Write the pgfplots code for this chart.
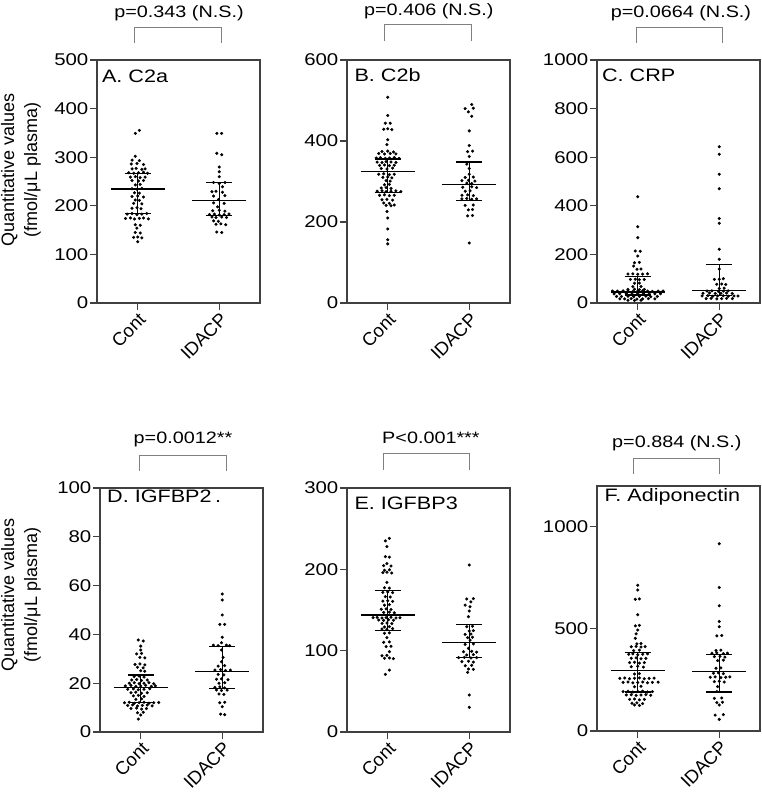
\documentclass[border=0pt]{standalone}
\usepackage{fontspec}
\setmainfont{Liberation Sans}
\usepackage{graphicx}
\usepackage{pgfplots}
\pgfplotsset{compat=1.18}
\newcommand\tickfont{\fontsize{17}{17}\selectfont}
\newcommand\xtickfont{\fontsize{18.5}{18.5}\selectfont}
\newcommand\tfont{\fontsize{18}{18}\selectfont}
\newcommand\pfont{\fontsize{16.5}{17}\selectfont}
\newcommand\lfont{\fontsize{18}{23}\selectfont}
\newcommand\sx[1]{\scalebox{1.2}[1]{#1}}
\pgfplotsset{
  panel/.style={
    scale only axis, width=163pt, height=243pt,
    xmin=0.5, xmax=2.5, ymin=0,
    xtick={1,2}, xticklabels={Cont,IDACP},
    tick align=outside, xtick pos=bottom, ytick pos=left,
    major tick length=7pt,
    axis line style={line width=1.1pt, black!75},
    every tick/.style={line width=1.1pt, black!75},
    /pgf/number format/assume math mode=true,
    /pgf/number format/1000 sep={},
    scaled y ticks=false,
    yticklabel={\sx{\pgfmathprintnumber{\tick}}},
    yticklabel style={font=\tickfont, inner sep=1.5pt},
    xticklabel style={font=\xtickfont, rotate=45, anchor=north east, inner sep=1pt},
    clip=false,
  },
  dots/.style={only marks, mark=*, mark size=1.35pt, black},
  summ/.style={black, line width=1.25pt, no marks},
}
\tikzset{
  brk/.style={black!50, line width=0.8pt},
  ptext/.style={font=\pfont, text=black},
  ttext/.style={font=\tfont, anchor=base west, inner sep=0pt},
}
\begin{document}
\begin{tikzpicture}
\path[use as bounding box] (0,0) rectangle (761pt,-798pt);

% ---------------- A. C2a
\begin{axis}[panel, at={(97pt,-303pt)}, anchor=south west, ymax=500, ytick={0,100,200,300,400,500}]
\addplot[dots] coordinates {
(1.02,355)(0.97,349)(0.97,302)(0.93,294)(1.02,293)(0.92,286)(0.99,287)(1.07,285)
(0.93,276)(0.98,277)(1.05,275)(1.09,276)
(0.89,268)(0.95,267)(1.01,268)(1.07,269)(1.12,267)
(0.91,259)(0.97,260)(1.03,258)(1.09,259)
(0.93,252)(1.01,251)(1.07,252)(0.97,243)(1.03,244)
(0.93,235)(0.99,234)(1.05,236)(0.96,227)(1.02,226)
(0.93,219)(1.0,220)(1.07,218)(0.97,212)(1.02,211)(0.95,205)(1.05,204)
(0.93,195)(0.99,196)(1.04,194)
(0.87,183)(0.93,184)(0.99,182)(1.05,183)(1.11,184)
(0.85,174)(0.91,175)(0.96,173)(1.02,174)(1.07,175)(1.13,173)
(0.97,161)(1.03,160)(0.99,154)(0.97,145)(1.03,144)
(0.95,135)(1.0,136)(1.05,134)(1.0,126)
};
\addplot[dots] coordinates {
(1.97,349)(2.03,349)(1.97,308)(2.03,305)(2.0,280)(2.0,270)(2.0,260)
(1.93,248)(2.0,246)(2.07,248)(2.04,239)
(1.91,229)(1.96,230)(2.04,228)(1.93,220)(2.07,221)(1.99,213)
(1.93,206)(2.06,205)(1.98,198)
(1.92,190)(2.0,191)(2.07,189)
(1.88,182)(1.94,183)(2.0,181)(2.06,182)(2.12,183)
(1.91,177)(1.96,176)(2.03,177)(2.09,176)
(1.93,169)(1.99,168)(1.96,162)(2.02,163)(2.08,161)
(1.97,146)(2.03,145)
};
\addplot[summ] coordinates {(0.67,234.6) (1.33,234.6)};
\addplot[summ] coordinates {(0.84,267) (1.16,267)};
\addplot[summ] coordinates {(0.84,184.5) (1.16,184.5)};
\addplot[summ] coordinates {(1,184.5) (1,267)};
\addplot[summ] coordinates {(1.67,210.5) (2.33,210.5)};
\addplot[summ] coordinates {(1.84,248) (2.16,248)};
\addplot[summ] coordinates {(1.84,180.4) (2.16,180.4)};
\addplot[summ] coordinates {(2,180.4) (2,248)};
\node[ttext] at (axis description cs:0.03,0.909) {\sx{A. C2a}};
\draw[brk] (axis description cs:0.227,1.070) -- (axis description cs:0.227,1.136) -- (axis description cs:0.761,1.136) -- (axis description cs:0.761,1.070);
\node[ptext] at (axis description cs:0.503,1.193) {\sx{p=0.343 (N.S.)}};
\node[rotate=90, align=center, font=\lfont] at (axis description cs:-0.466,0.547) {Quantitative values\\(fmol/μL plasma)};
\end{axis}

% ---------------- B. C2b
\begin{axis}[panel, at={(347pt,-303pt)}, anchor=south west, ymax=600, ytick={0,200,400,600}]
\addplot[dots] coordinates {
(1.0,508)(1.0,463)(0.97,444)(1.03,444)(0.95,429)(1.0,430)(1.05,428)
(1.0,403)(0.99,391)(0.93,374)(1.0,375)(1.07,373)
(0.89,369)(0.96,368)(1.03,369)(1.10,368)
(0.86,358)(0.91,359)(0.97,357)(1.02,358)(1.08,359)(1.14,357)
(0.87,348)(0.93,347)(0.98,349)(1.04,348)(1.10,347)
(0.90,340)(0.96,341)(1.02,339)(1.08,340)
(0.92,332)(0.99,331)(1.06,333)
(0.89,318)(0.95,319)(1.02,317)(1.08,318)
(0.94,310)(1.0,311)(1.05,309)(0.98,302)(1.03,301)(0.96,292)(1.02,293)
(0.92,284)(0.98,285)(1.04,283)
(0.87,276)(0.93,277)(0.98,275)(1.04,276)(1.10,277)(1.16,275)
(0.90,266)(0.96,267)(1.02,265)(1.08,266)
(0.93,255)(0.99,256)(1.06,254)(0.95,247)(1.02,246)
(0.98,241)(1.04,240)(1.08,242)
(0.99,226)(1.0,210)(1.0,183)(1.0,156)(1.0,146)
};
\addplot[dots] coordinates {
(2.03,490)(1.95,480)(2.05,481)(1.99,472)(2.03,461)(2.0,425)(2.0,389)
(1.98,374)(2.04,375)(2.0,362)(1.97,343)(2.0,332)(2.0,318)
(1.95,310)(2.05,311)(1.91,302)(1.99,303)(2.07,301)(1.97,296)(2.03,295)
(1.92,286)(2.03,287)(2.09,285)(1.95,276)(2.01,277)
(1.91,266)(1.98,267)(2.05,265)
(1.91,257)(1.97,258)(2.03,256)(2.09,257)
(1.95,241)(2.05,242)(1.99,230)(2.04,231)(1.98,215)(2.04,216)(2.0,148)
};
\addplot[summ] coordinates {(0.67,325) (1.33,325)};
\addplot[summ] coordinates {(0.84,355.5) (1.16,355.5)};
\addplot[summ] coordinates {(0.84,272) (1.16,272)};
\addplot[summ] coordinates {(1,272) (1,355.5)};
\addplot[summ] coordinates {(1.67,292) (2.33,292)};
\addplot[summ] coordinates {(1.84,348) (2.16,348)};
\addplot[summ] coordinates {(1.84,253.5) (2.16,253.5)};
\addplot[summ] coordinates {(2,253.5) (2,348)};
\node[ttext] at (axis description cs:0.045,0.911) {\sx{B. C2b}};
\draw[brk] (axis description cs:0.227,1.078) -- (axis description cs:0.227,1.148) -- (axis description cs:0.761,1.148) -- (axis description cs:0.761,1.078);
\node[ptext] at (axis description cs:0.502,1.202) {\sx{p=0.406 (N.S.)}};
\end{axis}

% ---------------- C. CRP
\begin{axis}[panel, at={(597pt,-303pt)}, anchor=south west, ymax=1000, ytick={0,200,400,600,800,1000}]
\addplot[dots] coordinates {
(1.0,437)(1.0,314)(1.0,269)(0.97,214)(1.03,213)(1.0,193)(0.96,166)(1.02,167)
(0.95,152)(0.99,139)(1.04,140)
(0.88,119)(0.94,120)(1.0,118)(1.06,119)(1.12,120)
(0.91,97)(0.97,98)(1.02,96)(1.08,97)(0.96,81)(1.02,82)(0.94,67)(1.04,68)
(0.88,56)(0.96,57)(1.02,55)(1.08,56)
(0.69,49)(0.75,49)(0.82,50)(0.88,49)(0.94,48)(1.0,49)(1.06,50)(1.12,49)(1.18,48)(1.25,49)(1.31,49)
(0.71,38)(0.78,38)(0.86,39)(0.93,37)(1.0,38)(1.07,39)(1.14,37)(1.21,38)(1.28,38)
(0.74,27)(0.80,27)(0.88,28)(0.95,26)(1.02,27)(1.10,28)(1.16,26)(1.24,27)
(0.78,17)(0.84,17)(0.92,18)(0.99,16)(1.06,17)(1.13,18)(1.21,17)
(0.88,11)(0.96,10)(1.04,11)
};
\addplot[dots] coordinates {
(2.0,643)(2.0,612)(2.0,530)(2.0,470)(2.0,348)(2.0,328)(2.0,221)(2.0,180)(2.0,140)
(1.94,97)(2.0,98)(2.05,100)(1.97,77)(2.03,78)(2.08,76)(2.0,60)(2.06,61)
(1.85,49)(1.91,50)(1.99,48)(2.05,49)(2.11,50)
(1.80,40)(1.88,41)(1.95,39)(2.02,40)(2.09,41)(2.16,39)
(1.79,29)(1.86,30)(1.92,28)(1.98,29)(2.05,30)(2.11,28)(2.18,29)(2.23,29)
(1.84,18)(1.90,19)(1.97,17)(2.03,18)(2.09,19)(2.16,18)
};
\addplot[summ] coordinates {(0.67,45) (1.33,45)};
\addplot[summ] coordinates {(0.84,110) (1.16,110)};
\addplot[summ] coordinates {(0.84,33) (1.16,33)};
\addplot[summ] coordinates {(1,33) (1,110)};
\addplot[summ] coordinates {(1.67,53) (2.33,53)};
\addplot[summ] coordinates {(1.84,157) (2.16,157)};
\addplot[summ] coordinates {(1.84,30) (2.16,30)};
\addplot[summ] coordinates {(2,30) (2,157)};
\node[ttext] at (axis description cs:0.03,0.911) {\sx{C. CRP}};
\draw[brk] (axis description cs:0.239,1.070) -- (axis description cs:0.239,1.136) -- (axis description cs:0.767,1.136) -- (axis description cs:0.767,1.070);
\node[ptext] at (axis description cs:0.515,1.193) {\sx{p=0.0664 (N.S.)}};
\end{axis}

% ---------------- D. IGFBP2
\begin{axis}[panel, at={(100pt,-732pt)}, anchor=south west, height=244pt, ymax=100, ytick={0,20,40,60,80,100}]
\addplot[dots] coordinates {
(0.97,37.7)(1.03,37.3)(1.0,35.2)(1.0,33.6)(0.95,32)(1.01,32.2)(0.99,30.6)(1.05,30.4)
(0.93,27.7)(0.99,27.9)(1.05,27.5)(0.96,26.5)(1.03,26.3)(1.0,25.1)(1.05,24.9)
(0.92,22.7)(0.98,22.9)(1.04,22.5)
(0.89,21.3)(0.95,21.5)(1.01,21.1)(1.08,21.3)
(0.86,20)(0.92,20.2)(0.98,19.8)(1.04,20)(1.10,20.2)(1.16,19.8)
(0.81,18.9)(0.88,19.1)(0.94,18.7)(1.0,18.9)(1.06,19.1)(1.13,18.7)(1.18,18.9)
(0.84,17.5)(0.91,17.7)(0.97,17.3)(1.04,17.5)(1.11,17.7)
(0.88,16.1)(0.94,16.3)(1.01,15.9)(1.08,16.1)
(0.91,14.8)(0.97,15.0)(1.04,14.6)(0.94,13.4)(1.01,13.6)
(0.80,12)(0.86,12.2)(0.92,11.8)(0.98,12)(1.04,12.2)(1.10,11.8)(1.16,12)(1.22,12.1)
(0.84,10.9)(0.90,11.1)(0.96,10.7)(1.02,10.9)(1.08,11.1)(1.14,10.7)
(0.88,9.6)(0.95,9.8)(1.01,9.4)(1.07,9.6)
(0.96,7.9)(1.03,8.1)(1.0,7.0)(0.97,5.3)
};
\addplot[dots] coordinates {
(2.0,56.6)(2.0,54.1)(2.0,48)(1.97,44.1)(2.03,44.1)(2.0,38.8)(1.99,36.6)
(1.89,35.6)(1.95,35.4)(2.05,35.6)(2.09,35.4)
(1.99,33.6)(2.01,30.6)(1.99,28.8)(1.95,27)(2.03,27.2)
(1.91,25.4)(1.98,25.6)(2.04,25.2)(2.10,25.4)
(1.95,23.6)(2.02,23.4)(1.93,21.6)(1.99,21.8)(2.07,21.4)
(1.96,20)(2.03,20.2)(1.91,18.3)(1.97,18.5)(2.03,18.1)
(1.93,17.2)(1.99,17.0)(2.06,17.2)(1.96,15.6)(2.02,15.4)
(1.97,12)(2.03,12.2)(2.0,10.4)(1.98,7.3)(2.03,7.1)
};
\addplot[summ] coordinates {(0.67,18.2) (1.33,18.2)};
\addplot[summ] coordinates {(0.84,23.4) (1.16,23.4)};
\addplot[summ] coordinates {(0.84,12.0) (1.16,12.0)};
\addplot[summ] coordinates {(1,12.0) (1,23.4)};
\addplot[summ] coordinates {(1.67,24.9) (2.33,24.9)};
\addplot[summ] coordinates {(1.84,35.1) (2.16,35.1)};
\addplot[summ] coordinates {(1.84,17.8) (2.16,17.8)};
\addplot[summ] coordinates {(2,17.8) (2,35.1)};
\node[ttext] at (axis description cs:0.043,0.940) {\sx{D. IGFBP2\hspace{3pt}.}};
\draw[brk] (axis description cs:0.239,1.070) -- (axis description cs:0.239,1.135) -- (axis description cs:0.773,1.135) -- (axis description cs:0.773,1.070);
\node[ptext] at (axis description cs:0.509,1.197) {\sx{p=0.0012**}};
\node[rotate=90, align=center, font=\lfont] at (axis description cs:-0.485,0.561) {Quantitative values\\(fmol/μL plasma)};
\end{axis}

% ---------------- E. IGFBP3
\begin{axis}[panel, at={(347pt,-732pt)}, anchor=south west, height=244pt, ymax=300, ytick={0,100,200,300}]
\addplot[dots] coordinates {
(1.02,238)(0.97,235)(0.99,228)(0.97,215.6)(1.02,215)(0.99,207)(0.95,204.5)(1.04,204)
(0.96,199)(1.02,199.5)(0.94,196)(0.99,196.5)(1.05,195.5)(0.99,184)(0.96,177.4)(1.02,177)
(0.94,171.8)(1.0,172.3)(1.06,171.3)(0.97,166.4)(1.03,166)
(0.94,161)(1.0,161.5)(1.06,160.5)(0.96,156)(1.02,156.5)
(0.92,151)(0.98,151.5)(1.04,150.5)(0.95,147)(1.02,147.5)(1.08,146.5)
(0.82,140.6)(0.87,141)(0.93,140.2)(0.98,140.6)(1.04,141)(1.10,140.2)(1.15,140.6)
(0.89,137.7)(0.95,137.3)(1.01,138)(1.07,137.5)
(0.93,133.6)(0.99,134)(1.05,133.2)(0.96,129)(1.02,129.5)
(0.93,126.6)(0.99,126.2)(1.06,127)(0.96,121.3)(1.02,121.8)(0.99,116)
(0.95,110.3)(1.02,110.8)(0.98,104.9)(1.04,105.4)(1.02,98.7)
(0.93,93.8)(0.99,94.2)(0.96,90.6)(1.02,91)(1.07,90.2)(1.02,76.2)(0.97,70.9)
};
\addplot[dots] coordinates {
(2.0,205.3)(1.97,163.5)(2.05,164)(2.02,160)(1.95,156)(2.01,154)(2.0,148.8)(1.99,141.8)
(1.97,129.5)(2.04,130)(2.0,124.2)(2.05,124.7)(1.95,120)(2.02,120.5)
(1.98,116)(2.04,116.5)(2.01,113)(1.95,107.8)(2.05,108.3)(1.99,102.9)
(1.93,98.7)(2.03,99.2)(2.09,98.2)(1.97,94.7)(2.05,95.2)
(1.87,91.4)(1.94,91.8)(2.02,91)(2.09,91.4)
(1.91,86.5)(1.99,87)(2.05,86)(1.95,81.5)(2.03,82)(1.99,77.5)(2.05,77)
(1.98,73.4)(2.0,45.5)(2.0,30.3)
};
\addplot[summ] coordinates {(0.67,143.9) (1.33,143.9)};
\addplot[summ] coordinates {(0.84,174.2) (1.16,174.2)};
\addplot[summ] coordinates {(0.84,125) (1.16,125)};
\addplot[summ] coordinates {(1,125) (1,174.2)};
\addplot[summ] coordinates {(1.67,110.3) (2.33,110.3)};
\addplot[summ] coordinates {(1.84,132.4) (2.16,132.4)};
\addplot[summ] coordinates {(1.84,91.4) (2.16,91.4)};
\addplot[summ] coordinates {(2,91.4) (2,132.4)};
\node[ttext] at (axis description cs:0.045,0.910) {\sx{E. IGFBP3}};
\draw[brk] (axis description cs:0.221,1.074) -- (axis description cs:0.221,1.143) -- (axis description cs:0.748,1.143) -- (axis description cs:0.748,1.074);
\node[ptext] at (axis description cs:0.515,1.205) {\sx{P<0.001***}};
\end{axis}

% ---------------- F. Adiponectin
\begin{axis}[panel, at={(597pt,-731pt)}, anchor=south west, height=245pt, ymax=1200, ytick={0,500,1000}]
\addplot[dots] coordinates {
(1.0,714)(1.0,691)(0.97,645)(1.02,647)(1.0,569)(0.97,515)(1.02,517)(1.0,495)(0.98,476)(0.97,454)
(0.99,427)(1.04,429)(0.92,413)(0.98,415)(1.04,411)(1.09,413)(0.95,394)(1.02,396)
(0.89,376)(0.94,378)(1.0,374)(1.06,376)(1.12,378)
(0.92,356)(0.98,358)(1.04,354)(1.10,356)
(0.90,335)(0.96,337)(1.02,333)(1.08,335)
(0.92,315)(1.0,317)(1.07,313)(0.96,279)(1.02,281)
(0.78,258)(0.84,260)(0.90,256)(0.96,258)(1.02,260)(1.08,256)(1.14,258)(1.20,259)
(0.82,238)(0.88,240)(0.94,236)(1.0,238)(1.06,240)(1.12,236)(1.18,238)(1.25,239)
(0.96,217)(1.04,219)
(0.82,193)(0.88,195)(0.94,191)(1.0,193)(1.06,195)(1.12,191)(1.18,193)
(0.86,176.5)(0.92,178)(0.98,175)(1.04,176.5)(1.10,178)(1.16,175)
(0.90,155)(0.96,157)(1.02,153)(1.08,155)
(0.93,136)(0.99,138)(1.06,134)(0.96,127.5)(1.02,125)
};
\addplot[dots] coordinates {
(2.0,917)(2.0,703)(2.0,613)(2.0,536)(2.0,511)(1.97,466)(2.03,468)
(1.96,394)(2.02,396)(1.91,381)(1.97,383)(2.05,379)(2.10,381)
(1.94,364)(2.01,366)(2.07,362)(1.98,345)(2.05,347)(1.96,307)(2.02,309)
(1.93,283)(1.99,285)(2.05,281)
(1.89,263)(1.95,265)(2.02,261)(2.08,263)(2.13,265)
(1.94,242)(2.0,244)(2.06,240)(1.98,217)(1.97,193)
(1.94,160)(2.03,162)(1.97,139)(2.04,141)(2.0,127.5)(1.95,78)(2.05,80)(2.0,57)
};
\addplot[summ] coordinates {(0.67,295.6) (1.33,295.6)};
\addplot[summ] coordinates {(0.84,384) (1.16,384)};
\addplot[summ] coordinates {(0.84,191) (1.16,191)};
\addplot[summ] coordinates {(1,191) (1,384)};
\addplot[summ] coordinates {(1.67,290.8) (2.33,290.8)};
\addplot[summ] coordinates {(1.84,376) (2.16,376)};
\addplot[summ] coordinates {(1.84,191) (2.16,191)};
\addplot[summ] coordinates {(2,191) (2,376)};
\node[ttext] at (axis description cs:0.045,0.936) {\sx{F. Adiponectin}};
\draw[brk] (axis description cs:0.221,1.049) -- (axis description cs:0.221,1.114) -- (axis description cs:0.748,1.114) -- (axis description cs:0.748,1.049);
\node[ptext] at (axis description cs:0.49,1.176) {\sx{p=0.884 (N.S.)}};
\end{axis}
\end{tikzpicture}
\end{document}
